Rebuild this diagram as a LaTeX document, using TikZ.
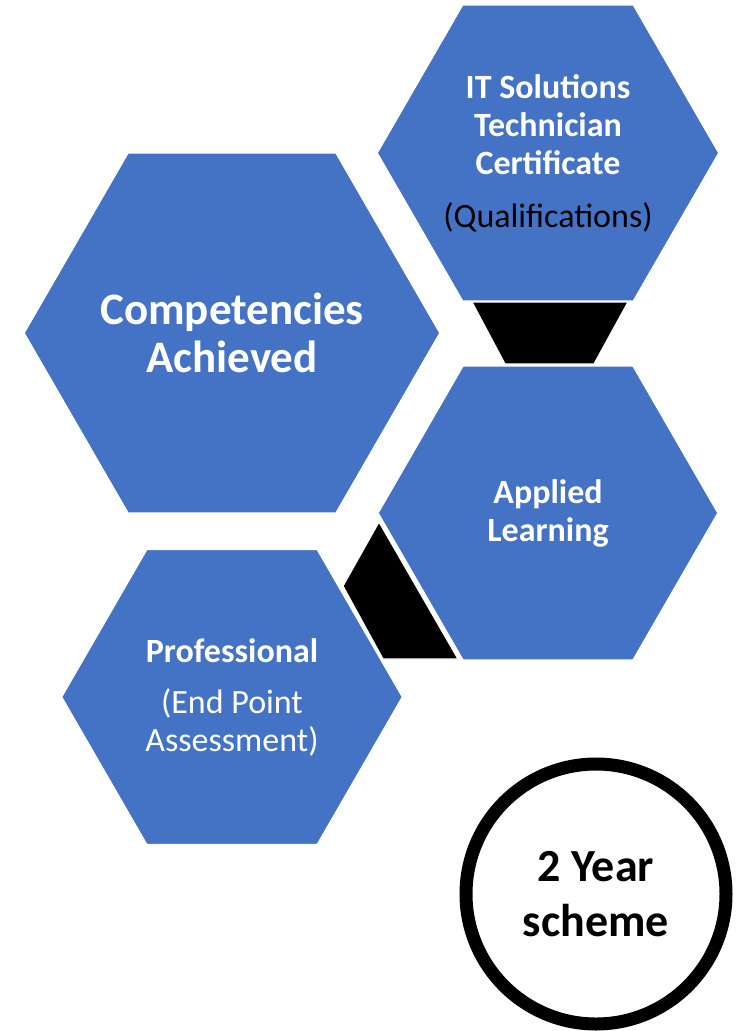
\documentclass[tikz,border=0pt]{standalone}
\usepackage{fontspec}
\setmainfont{Carlito}
\usetikzlibrary{shapes.geometric}
\definecolor{hexblue}{HTML}{4472C4}
\begin{document}
\begin{tikzpicture}[x=1pt,y=-1pt]
  \tikzset{hx/.style={regular polygon,regular polygon sides=6,fill=hexblue,draw=white,line width=1.5pt,inner sep=0pt,align=center,text=white,font=\fontsize{34}{38}\selectfont},
    gap/.style={fill=black,draw=white,line width=1.2pt}}
  \useasboundingbox (0,0) rectangle (742,1031);
  \node[hx,minimum size=416pt,inner sep=-40pt,font=\bfseries\fontsize{45}{48}\selectfont] (comp) at (232,333) {Competencies\\Achieved};
  \node[hx,minimum size=340pt] (it) at (548,153) {\textbf{IT Solutions}\\\textbf{Technician}\\\textbf{Certificate}\\[15pt]\textcolor{black}{(Qualifications)}};
  \node[hx,minimum size=340pt] (app) at (548,513) {\textbf{Applied}\\\textbf{Learning}};
  \node[hx,minimum size=341pt] (prof) at (232,697) {\textbf{Professional}\\[13pt](End Point\\Assessment)};
  \draw[gap] (472,302) -- (628,302) -- (594,364) -- (505,364) -- cycle;
  \draw[gap] (379,522) -- (343,586) -- (383,659) -- (458,659) -- cycle;
  \node[circle,draw=black,line width=13pt,minimum size=260pt,align=center,font=\bfseries\fontsize{46}{55}\selectfont] (yr) at (596,894) {2 Year\\scheme};
\end{tikzpicture}
\end{document}
